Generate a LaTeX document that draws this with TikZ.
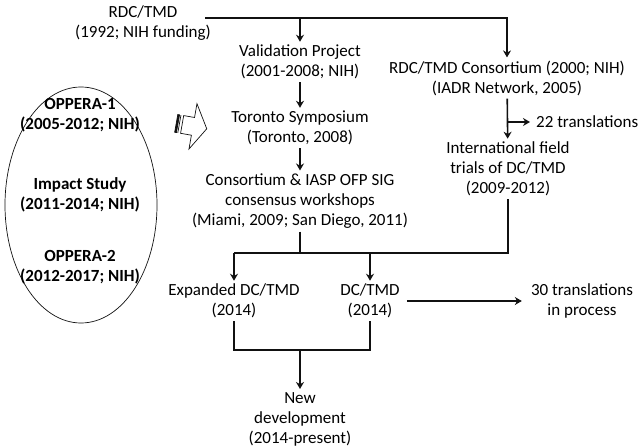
\documentclass[tikz,border=0pt]{standalone}
\usepackage{fontspec}
\setmainfont{Carlito}
\usetikzlibrary{arrows.meta,positioning,calc,shapes.geometric}
\definecolor{ChartInk}{HTML}{111111}
\tikzset{>={Stealth[length=7pt,width=8pt]},every node/.style={font=\fontsize{17}{20}\selectfont},
 item/.style={align=center,inner sep=3pt},study/.style={align=center,inner sep=0pt,
 font=\fontsize{17}{20}\selectfont\bfseries},link/.style={draw=ChartInk,line width=1.6pt},
 halo/.style={ellipse,draw=ChartInk,line width=0.7pt,minimum width=152pt,minimum height=236pt}}

\begin{document}
\begin{tikzpicture}[x=1pt,y=-1pt]
\useasboundingbox (0,0) rectangle (644,446);
% main column
\node[item] (rdc) at (143,23) {RDC/TMD\\(1992; NIH funding)};
\node[item] (val) at (300,62) {Validation Project\\(2001-2008; NIH)};
\node[item] (tor) at (300,128) {Toronto Symposium\\(Toronto, 2008)};
\node[item] (cons) at (300,201) {Consortium \& IASP OFP SIG\\consensus workshops\\(Miami, 2009; San Diego, 2011)};
% right column
\node[item] (con) at (507,78) {RDC/TMD Consortium (2000; NIH)\\(IADR Network, 2005)};
\node[item,anchor=west,inner xsep=6pt] (tr22) at (530,122) {22 translations};
\node[item] (field) at (508,169) {International field\\trials of DC/TMD\\(2009-2012)};
% lower part
\node[item] (exp) at (234,301) {Expanded DC/TMD\\(2014)};
\node[item] (dc) at (370,301) {DC/TMD\\(2014)};
\node[item] (tr30) at (582,301) {30 translations\\in process};
\node[item] (new) at (300,419) {New\\development\\(2014-present)};
% studies
\node[halo] (ell) at (81,205) {};
\node[study] (opp1) at (80,115) {OPPERA-1\\(2005-2012; NIH)};
\node[study] (imp) at (80,195) {Impact Study\\(2011-2014; NIH)};
\node[study] (opp2) at (80,267) {OPPERA-2\\(2012-2017; NIH)};
\coordinate (topL) at (205,18);
\coordinate (j1) at (300,253);
\coordinate (j2) at (300,350);
\draw[link,->] (topL) -- (topL -| con.north) -- (con.north);
\draw[link,->] (topL -| val) -- (val.north);
\draw[link,->] (val) -- (tor);
\draw[link,->] (tor) -- (cons);
\draw[link,->] (con) -- (field);
\draw[link,->] (con.south |- tr22) -- (tr22.west);
\draw[link] (cons) -- (j1);
\draw[link] (field.south) -- (field.south |- j1) -- (exp.north |- j1);
\draw[link,->] (exp.north |- j1) -- (exp.north);
\draw[link,->] (dc.north |- j1) -- (dc.north);
\draw[link,->] ([xshift=4pt]dc.east) -- ([xshift=-6pt]tr30.west);
\draw[link] (exp.south) -- (exp.south |- j2) -- (dc.south |- j2) -- (dc.south);
\draw[link,->] (j2) -- (new.north);
% striped hollow arrow
\begin{scope}[shift={(191,126)},rotate=-10,draw=ChartInk,line width=0.7pt]
\filldraw[fill=ChartInk] (-15,-9) rectangle (-13.2,9);
\draw (-11.8,-9) -- (-11.8,9);
\draw[fill=white] (-9,-9) -- (2,-9) -- (2,-23) -- (16,0) -- (2,23) -- (2,9) -- (-9,9) -- cycle;
\end{scope}
\end{tikzpicture}
\end{document}
